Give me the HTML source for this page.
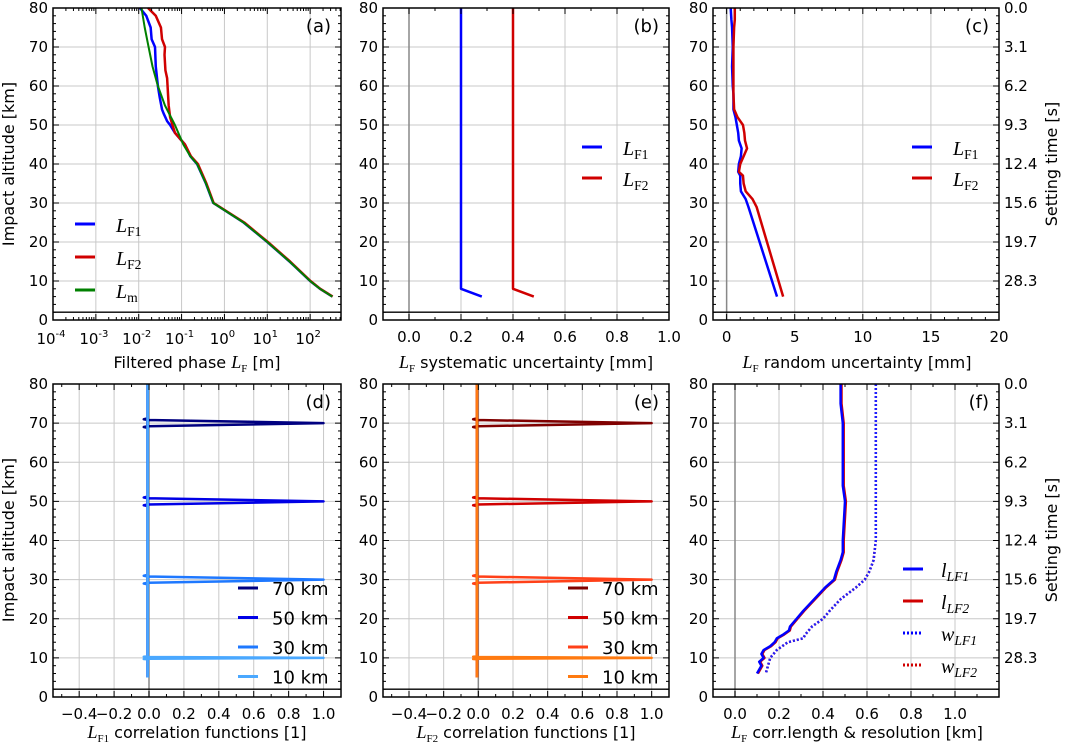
<!DOCTYPE html>
<html><head><meta charset="utf-8"><style>
html,body{margin:0;padding:0;background:#fff}
svg{display:block}
text{font-family:"DejaVu Sans","Liberation Sans",sans-serif;fill:#000}
.m{font-family:"Liberation Serif","DejaVu Serif",serif}
</style></head><body>
<svg id="fig" width="1065" height="746" viewBox="0 0 1065 746" xmlns="http://www.w3.org/2000/svg"></svg>
<script>
// ---------- data ----------
const altTicks = [0,10,20,30,40,50,60,70,80];
const settingTimeLabels = ["0.0","3.1","6.2","9.3","12.4","15.6","19.7","28.3"];
const settingTimeAlts = [80,70,60,50,40,30,20,10];

// (a) filtered phase [m], log scale
const aAltF1 = [80,78,75,72,70,65,60,57,54,53,51,50,48,45,42,40,35,30,25,20,15,10,8,6];
const aValF1 = [0.0107,0.015,0.019,0.02,0.024,0.025,0.028,0.031,0.035,0.038,0.046,0.054,0.07,0.12,0.16,0.23,0.37,0.55,2.8,10,33,100,170,330];
const aAltF2 = [80,78,75,72,70,68,64,62,55,52,48,45,42,40,35,30,25,20,15,10,8,6];
const aValF2 = [0.0165,0.025,0.033,0.035,0.041,0.04,0.042,0.046,0.05,0.054,0.07,0.12,0.165,0.24,0.38,0.56,2.9,10.3,34,102,172,335];
const aAltM = [80,75,70,65,60,55,50,45,42,40,35,30,25,20,15,10,8,6];
const aValM = [0.0116,0.0138,0.017,0.021,0.028,0.041,0.07,0.11,0.16,0.23,0.37,0.55,2.8,10,33,100,170,330];

// (b) systematic uncertainty [mm]
const bAlt = [80,8,6];
const bValF1 = [0.2,0.2,0.28];
const bValF2 = [0.4,0.4,0.48];

// (c) random uncertainty [mm]
const cAlt = [80,77,75,70,65,60,58,54,52,50,48,46,44,42,40,38,37,35,33,31,29,6];
const cValF1 = [0.3,0.35,0.4,0.45,0.4,0.45,0.5,0.5,0.65,0.75,0.85,0.9,1.1,1.05,0.9,0.85,1.0,1.0,1.05,1.4,1.6,3.7];
const cValF2 = [0.6,0.6,0.55,0.5,0.5,0.5,0.5,0.55,0.8,1.2,1.3,1.35,1.5,1.25,1.0,0.9,1.2,1.25,1.4,1.9,2.2,4.15];

// (d),(e) correlation functions
const corrPeaks = [70,50,30,10];
const corrLabels = ["70 km","50 km","30 km","10 km"];
const corrWidths = [1,1,1,0.3];
const corrOffsets = [-1.2,-1.0,-0.8,0,0.8,1.0,1.2];
const corrValues = [-0.01,-0.03,-0.005,1.0,-0.005,-0.03,-0.01];

// (f) correlation length & resolution [km]
const fAltL = [80,75,70,60,54,50,40,37,35,32,30,28,25,22,20,18,17,16,15,14,13,12,11,10,9,8,7,6];
const fValL = [0.48,0.48,0.49,0.49,0.49,0.5,0.49,0.49,0.48,0.46,0.45,0.41,0.36,0.31,0.28,0.25,0.245,0.22,0.19,0.18,0.16,0.13,0.12,0.13,0.11,0.12,0.11,0.1];
const fAltW = [80,40,35,32,30,28,25,22,20,18,16,15,14,12,10,8,6];
const fValW = [0.64,0.64,0.63,0.61,0.59,0.55,0.48,0.43,0.40,0.35,0.32,0.31,0.24,0.19,0.16,0.15,0.14];

// ---------- helpers ----------
const NS="http://www.w3.org/2000/svg";
const svg=document.getElementById('fig');
function el(tag,attrs,parent){const e=document.createElementNS(NS,tag);for(const k in attrs)e.setAttribute(k,attrs[k]);(parent||svg).appendChild(e);return e;}

function makePanel(name,L,R,T,B,xmin,xmax,log){
  const g=el('g',{});
  
  
  const xs=v=>log? L+(Math.log10(v)-xmin)/(xmax-xmin)*(R-L) : L+(v-xmin)/(xmax-xmin)*(R-L);
  const ys=a=>T+(80-a)/80*(B-T);
  return {g,L,R,T,B,xs,ys,xmin,xmax,log};
}
function grid(p,xticks){
  const gg=el('g',{},p.g);
  
  
  xticks.forEach(v=>{const x=p.xs(v);el('line',{x1:x,x2:x,y1:p.T,y2:p.B,stroke:'#c8c8c8','stroke-width':1},gg);});
  altTicks.forEach(a=>{const y=p.ys(a);el('line',{x1:p.L,x2:p.R,y1:y,y2:y,stroke:'#c8c8c8','stroke-width':1},gg);});
}
function frame(p,xticks,xminor,rightLabels){
  const f=el('g',{},p.g);
  
  
  el('line',{x1:p.L,x2:p.R,y1:p.ys(2),y2:p.ys(2),stroke:'#000','stroke-width':1.3},f);
  xticks.forEach(v=>{const x=p.xs(v);el('line',{x1:x,x2:x,y1:p.B,y2:p.B-6,stroke:'#000'},f);el('line',{x1:x,x2:x,y1:p.T,y2:p.T+6,stroke:'#000'},f);});
  xminor.forEach(v=>{const x=p.xs(v);el('line',{x1:x,x2:x,y1:p.B,y2:p.B-3,stroke:'#000'},f);el('line',{x1:x,x2:x,y1:p.T,y2:p.T+3,stroke:'#000'},f);});
  for(let a=0;a<=80;a+=2){const y=p.ys(a);const len=a%10===0?6:3;
    el('line',{x1:p.L,x2:p.L+len,y1:y,y2:y,stroke:'#000'},f);el('line',{x1:p.R,x2:p.R-len,y1:y,y2:y,stroke:'#000'},f);}
  el('rect',{x:p.L,y:p.T,width:p.R-p.L,height:p.B-p.T,fill:'none',stroke:'#000','stroke-width':1.5},f);
  altTicks.forEach(a=>{const t=el('text',{x:p.L-5,y:p.ys(a)+5,'text-anchor':'end','font-size':15},f);t.textContent=a;});
  if(rightLabels){settingTimeAlts.forEach((a,i)=>{const t=el('text',{x:p.R+5,y:p.ys(a)+5,'font-size':15},f);t.textContent=settingTimeLabels[i];});}
}
function xlabels(p,vals,fmt){
  const g=el('g',{},p.g);
  
  
  vals.forEach(v=>{const t=el('text',{x:p.xs(v),y:p.B+22,'text-anchor':'middle','font-size':15},g);t.textContent=fmt(v);});
}
function line(p,alts,vals,color,w,dash,name){
  const d=alts.map((a,i)=>(i?'L':'M')+p.xs(vals[i]).toFixed(2)+','+p.ys(a).toFixed(2)).join('');
  const a={d:d,fill:'none',stroke:color,'stroke-width':w,'stroke-linejoin':'round'};
  if(dash)a['stroke-dasharray']=dash;
  const e=el('path',a,p.g);
  
  
  return e;
}
function zeroLine(p){const x=p.xs(0);const e=el('line',{x1:x,x2:x,y1:p.T,y2:p.B,stroke:'#888','stroke-width':1.5},p.g);
  
  }
function panelLabel(p,s){const t=el('text',{x:p.R-10,y:p.T+24,'text-anchor':'end','font-size':18},p.g);t.textContent=s;
  
  }
function mathLabel(parent,x,y,base,sub,fs,italicSub){
  const t=el('text',{x:x,y:y,'font-size':fs,class:'m'},parent);
  const b=el('tspan',{'font-style':'italic'},t);b.textContent=base;
  const s=el('tspan',{'font-size':fs*0.68,dy:fs*0.2,'font-style':italicSub?'italic':'normal'},t);s.textContent=sub;
  return t;
}
function legend(p,x,y0,dy,items){
  const g=el('g',{},p.g);
  
  
  items.forEach((it,i)=>{
    const y=y0+i*dy;
    const e=el('g',{},g);
    
    
    const la={x1:x,x2:x+20,y1:y,y2:y,stroke:it.c,'stroke-width':3};
    if(it.dash)la['stroke-dasharray']=it.dash;
    el('line',la,e);
    if(it.plain){const t=el('text',{x:x+34,y:y+7,'font-size':18},e);t.textContent=it.plain;}
    else mathLabel(e,x+it.off,y+8,it.b,it.s,20,it.is);
  });
}
function yTitle(x,yc,s,name){const t=el('text',{x:x,y:yc,'text-anchor':'middle','font-size':16,transform:`rotate(-90 ${x} ${yc})`});t.textContent=s;
  
  }
function xTitleMath(cx,y,base,sub,rest,name){
  const t=el('text',{x:cx,y:y,'text-anchor':'middle','font-size':16});
  
  
  const a=el('tspan',{class:'m','font-style':'italic','font-size':18},t);a.textContent=base;
  const b=el('tspan',{class:'m','font-size':11,dy:4},t);b.textContent=sub;
  const c=el('tspan',{dy:-4},t);c.textContent=rest;
}

const TT=8,TB=320,BT=384,BB=697;
const cols=[[53,341],[383,669],[713,999]];
function range(a,b,s){const r=[];for(let v=a;v<=b+1e-9;v+=s)r.push(Math.round(v*1000)/1000);return r;}

// ----- (a) -----
{
  const p=makePanel('panel-a-filtered-phase',cols[0][0],cols[0][1],TT,TB,-4,2.72,true);
  const maj=[1e-4,1e-3,1e-2,1e-1,1,10,100];
  const minr=[];for(let e=-4;e<=2;e++)for(let k=2;k<=9;k++){const v=k*Math.pow(10,e);if(Math.log10(v)<=2.72)minr.push(v);}
  grid(p,maj);
  line(p,aAltF1,aValF1,'#0000ff',2.5,null,'line-lf1');
  line(p,aAltF2,aValF2,'#d00000',2.5,null,'line-lf2');
  line(p,aAltM,aValM,'#008000',2,null,'line-lm');
  frame(p,maj,minr,false);
  const g=el('g',{},p.g);
  
  
  for(let e=-4;e<=2;e++){const t=el('text',{x:p.xs(Math.pow(10,e))-2,y:p.B+24,'text-anchor':'middle','font-size':15},g);
    t.textContent='10';const s=el('tspan',{'font-size':10,dy:-7},t);s.textContent=String(e);}
  panelLabel(p,'(a)');
  legend(p,75,224,33,[{c:'#0000ff',b:'L',s:'F1',off:41},{c:'#d00000',b:'L',s:'F2',off:41},{c:'#008000',b:'L',s:'m',off:41}]);
  const xt=el('text',{x:197,y:368,'text-anchor':'middle','font-size':16});
  
  
  const t1=el('tspan',{},xt);t1.textContent='Filtered phase ';
  const t2=el('tspan',{class:'m','font-style':'italic','font-size':18},xt);t2.textContent='L';
  const t3=el('tspan',{class:'m','font-size':11,dy:4},xt);t3.textContent='F';
  const t4=el('tspan',{dy:-4},xt);t4.textContent=' [m]';
}
// ----- (b) -----
{
  const p=makePanel('panel-b-systematic',cols[1][0],cols[1][1],TT,TB,-0.1,1.0,false);
  const maj=range(0,1,0.2);grid(p,maj);zeroLine(p);
  line(p,bAlt,bValF1,'#0000ff',2.5,null,'line-lf1');
  line(p,bAlt,bValF2,'#d00000',2.5,null,'line-lf2');
  frame(p,maj,range(-0.1,1,0.1).filter(v=>Math.abs(v*10%2)>0.5),false);
  xlabels(p,maj,v=>v.toFixed(1));
  panelLabel(p,'(b)');
  legend(p,582,147,31,[{c:'#0000ff',b:'L',s:'F1',off:41},{c:'#d00000',b:'L',s:'F2',off:41}]);
  xTitleMath(526,368,'L','F',' systematic uncertainty [mm]','x-axis-title-b');
}
// ----- (c) -----
{
  const p=makePanel('panel-c-random',cols[2][0],cols[2][1],TT,TB,-1,20,false);
  const maj=[0,5,10,15,20];grid(p,maj);zeroLine(p);
  line(p,cAlt,cValF1,'#0000ff',2.5,null,'line-lf1');
  line(p,cAlt,cValF2,'#d00000',2.5,null,'line-lf2');
  frame(p,maj,range(1,19,1).filter(v=>v%5),true);
  xlabels(p,maj,v=>String(v));
  panelLabel(p,'(c)');
  legend(p,912,147,31,[{c:'#0000ff',b:'L',s:'F1',off:41},{c:'#d00000',b:'L',s:'F2',off:41}]);
  xTitleMath(857,368,'L','F',' random uncertainty [mm]','x-axis-title-c');
}
// ----- (d),(e) -----
function corrPanel(name,col,colors,lab,sub,tname){
  const p=makePanel(name,cols[col][0],cols[col][1],BT,BB,-0.55,1.1,false);
  const maj=range(-0.4,1,0.2);grid(p,maj);zeroLine(p);
  corrPeaks.forEach((h,k)=>{
    const w=corrWidths[k];
    const alts=[80,h+1.5*w].concat(corrOffsets.map(o=>h+o*w)).concat([h-1.5*w,5]);
    const vals=[-0.008,-0.008].concat(corrValues).concat([-0.008,-0.008]);
    const keep=alts.map((a,i)=>i).filter(i=>alts[i]<=80&&alts[i]>=5);
    line(p,keep.map(i=>alts[i]),keep.map(i=>vals[i]),colors[k],2.5,null,'corr-'+corrLabels[k].replace(' ',''));
  });
  frame(p,maj,range(-0.5,1.1,0.1).filter(v=>Math.abs(Math.round(v*10))%2===1),false);
  xlabels(p,maj,v=>(v<0?'\u2212':'')+Math.abs(v).toFixed(1));
  panelLabel(p,lab);
  legend(p,238+col*330,588,29.5,corrLabels.map((s,i)=>({c:colors[i],plain:s})));
  xTitleMath(197+(col*329),738,'L',sub,' correlation functions [1]',tname);
}
corrPanel('panel-d-lf1-correlation',0,['#000080','#0000e6','#1e78ff','#4aa8ff'],'(d)','F1','x-axis-title-d');
corrPanel('panel-e-lf2-correlation',1,['#800000','#d00000','#ff4018','#ff7a10'],'(e)','F2','x-axis-title-e');
// ----- (f) -----
{
  const p=makePanel('panel-f-corr-length',cols[2][0],cols[2][1],BT,BB,-0.1,1.2,false);
  const maj=range(0,1,0.2);grid(p,maj);zeroLine(p);
  line(p,fAltL,fValL.map(v=>v+0.004),'#d00000',2.5,null,'line-l-lf2');
  line(p,fAltW,fValW,'#d00000',2.5,'2,2','line-w-lf2');
  line(p,fAltL,fValL,'#0000ff',2.5,null,'line-l-lf1');
  line(p,fAltW,fValW,'#2020ff',2.5,'2,2','line-w-lf1');
  frame(p,maj,range(-0.1,1.2,0.1).filter(v=>Math.abs(Math.round(v*10))%2===1),true);
  xlabels(p,[0,0.2,0.4,0.6,0.8,1.0],v=>v.toFixed(1));
  panelLabel(p,'(f)');
  legend(p,903,569,32,[{c:'#0000ff',b:'l',s:'LF1',off:38,is:true},{c:'#d00000',b:'l',s:'LF2',off:38,is:true},{c:'#0000ff',b:'w',s:'LF1',off:38,is:true,dash:'2,2'},{c:'#d00000',b:'w',s:'LF2',off:38,is:true,dash:'2,2'}]);
  xTitleMath(857,738,'L','F',' corr.length & resolution [km]','x-axis-title-f');
}
// axis titles
yTitle(14,164,'Impact altitude [km]','y-axis-title-top');
yTitle(14,540,'Impact altitude [km]','y-axis-title-bottom');
{const x=1057;const t=el('text',{x:x,y:164,'text-anchor':'middle','font-size':16,transform:`rotate(-90 ${x} 164)`});t.textContent='Setting time [s]';

}
{const x=1057;const t=el('text',{x:x,y:540,'text-anchor':'middle','font-size':16,transform:`rotate(-90 ${x} 540)`});t.textContent='Setting time [s]';

}
</script>
</body></html>
